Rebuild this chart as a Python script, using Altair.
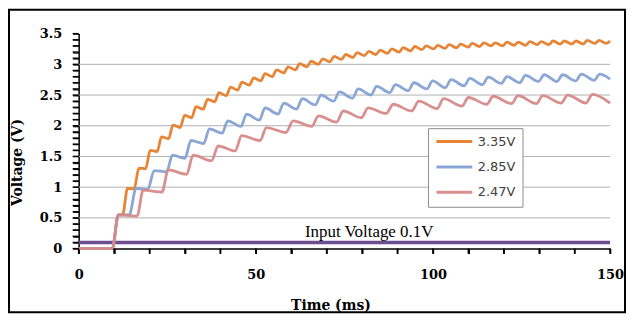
import altair as alt
import pandas as pd

# ---------------- data ----------------
series_names = ["3.35V", "2.85V", "2.47V"]
series_colors = ["#E67D2A", "#84A2D4", "#D88989"]

# 3.35V (orange) vertices: time (ms), voltage (V)
orange_t = [0, 9.5, 11.2, 12.4, 13.8,
            15.65, 17.0, 18.9, 20.2, 22.15, 23.4, 25.4, 26.6, 28.65, 29.9,
            31.9, 33.1, 35.15, 36.4, 38.4, 39.6, 41.65, 42.9, 44.9, 46.1,
            48.15, 49.4, 51.4, 52.6, 54.65, 55.9, 57.9, 59.1, 61.15, 62.4,
            64.4, 65.6, 67.65, 68.9, 70.9, 72.1, 74.15, 75.4, 77.4, 78.6,
            80.65, 81.9, 83.9, 85.1, 87.15, 88.4, 90.4, 91.6, 93.65, 94.9,
            96.9, 98.1, 100.15, 101.4, 103.4, 104.6, 106.65, 107.9, 109.9, 111.1,
            113.15, 114.4, 116.4, 117.6, 119.65, 120.9, 122.9, 124.1, 126.15, 127.4,
            129.4, 130.6, 132.65, 133.9, 135.9, 137.1, 139.15, 140.4, 142.4, 143.6,
            145.65, 146.9, 148.9, 150.0]
orange_v = [0, 0, 0.55, 0.55, 0.98,
            0.97, 1.31, 1.30, 1.60, 1.58, 1.82, 1.79, 2.01, 1.97, 2.17,
            2.13, 2.31, 2.27, 2.43, 2.39, 2.54, 2.49, 2.63, 2.58, 2.71,
            2.66, 2.78, 2.73, 2.85, 2.80, 2.91, 2.86, 2.96, 2.91, 3.01,
            2.96, 3.05, 3.00, 3.09, 3.04, 3.13, 3.08, 3.16, 3.11, 3.19,
            3.14, 3.21, 3.16, 3.23, 3.18, 3.25, 3.20, 3.27, 3.22, 3.29,
            3.24, 3.30, 3.25, 3.31, 3.26, 3.32, 3.27, 3.33, 3.28, 3.34,
            3.29, 3.35, 3.30, 3.35, 3.30, 3.36, 3.31, 3.36, 3.31, 3.37,
            3.32, 3.37, 3.32, 3.38, 3.33, 3.38, 3.33, 3.38, 3.33, 3.39,
            3.34, 3.39, 3.34, 3.38]

# 2.85V (blue)
blue_t = [0, 9.5, 11.2, 14.3, 16.2,
          19.5, 21.3, 24.8, 26.5, 30.0, 31.7, 35.3, 36.9, 40.5, 42.1,
          45.8, 47.4, 51.0, 52.6, 56.3, 57.9, 61.5, 63.1, 66.8, 68.4,
          72.0, 73.6, 77.3, 78.9, 82.5, 84.1, 87.8, 89.4, 93.0, 94.6,
          98.3, 99.9, 103.5, 105.1, 108.8, 110.4, 114.0, 115.6, 119.3, 120.9,
          124.5, 126.1, 129.8, 131.4, 135.0, 136.6, 140.3, 141.9, 145.5, 147.1,
          150]
blue_v = [0, 0, 0.55, 0.55, 0.98,
          0.96, 1.27, 1.25, 1.52, 1.47, 1.76, 1.71, 1.95, 1.88, 2.08,
          1.99, 2.19, 2.09, 2.29, 2.19, 2.37, 2.27, 2.44, 2.34, 2.50,
          2.40, 2.55, 2.45, 2.60, 2.50, 2.64, 2.54, 2.67, 2.57, 2.70,
          2.60, 2.73, 2.62, 2.75, 2.65, 2.77, 2.67, 2.79, 2.69, 2.80,
          2.70, 2.82, 2.72, 2.83, 2.72, 2.83, 2.73, 2.84, 2.74, 2.84,
          2.76]

# 2.47V (red)
red_t = [0, 9.5, 11.2,
         16.5, 18.2, 23.5, 25.3, 30.5, 32.3, 37.5, 39.4, 44.2, 46.0,
         51.2, 53.0, 58.5, 60.5, 65.8, 67.7, 72.8, 74.7, 79.8, 81.7,
         86.8, 88.8, 94.0, 96.0, 101.2, 103.0, 108.2, 110.0, 115.2, 117.0,
         122.2, 124.0, 129.2, 131.0, 136.2, 138.0, 143.2, 145.0, 150]
red_v = [0, 0, 0.55,
         0.53, 0.95, 0.92, 1.28, 1.21, 1.52, 1.43, 1.67, 1.59, 1.84,
         1.76, 1.97, 1.89, 2.08, 1.99, 2.16, 2.06, 2.24, 2.13, 2.29,
         2.20, 2.35, 2.24, 2.40, 2.28, 2.44, 2.32, 2.46, 2.35, 2.48,
         2.36, 2.49, 2.36, 2.49, 2.37, 2.50, 2.37, 2.51, 2.37]

# input voltage line
input_t = [0, 150]
input_v = [0.1, 0.1]
input_label = ["Input Voltage 0.1V"]
input_label_t = [82]
input_label_v = [0.27]

grid_values = [0.5, 1.0, 1.5, 2.0, 2.5, 3.0]
x_tick_values = [0, 10, 20, 30, 40, 50, 60, 70, 80, 90, 100, 110, 120, 130, 140, 150]
y_tick_values = [0.0, 0.1, 0.2, 0.3, 0.4, 0.5, 0.6, 0.7, 0.8, 0.9,
                 1.0, 1.1, 1.2, 1.3, 1.4, 1.5, 1.6, 1.7, 1.8, 1.9,
                 2.0, 2.1, 2.2, 2.3, 2.4, 2.5, 2.6, 2.7, 2.8, 2.9,
                 3.0, 3.1, 3.2, 3.3, 3.4, 3.5]
x_tick_len_v = 0.085   # tick length below the time axis, in volts
y_tick_len_t = 1.7     # tick length left of the voltage axis, in ms

# ---------------- tables ----------------
rows = []
for name, ts, vs in zip(series_names, [orange_t, blue_t, red_t], [orange_v, blue_v, red_v]):
    assert len(ts) == len(vs), name
    for t, v in zip(ts, vs):
        rows.append({"series": name, "t": t, "v": v})
df = pd.DataFrame(rows)
df_in = pd.DataFrame({"t": input_t, "v": input_v})
df_lab = pd.DataFrame({"t": input_label_t, "v": input_label_v, "txt": input_label})
df_grid = pd.DataFrame({"v": grid_values})

# tick segments as two-point lines
xt_rows = []
for i, t in enumerate(x_tick_values):
    xt_rows.append({"k": i, "t": t, "v": 0.0})
    xt_rows.append({"k": i, "t": t, "v": -x_tick_len_v})
df_xt = pd.DataFrame(xt_rows)
yt_rows = []
for i, v in enumerate(y_tick_values):
    yt_rows.append({"k": i, "t": 0.0, "v": v})
    yt_rows.append({"k": i, "t": -y_tick_len_t, "v": v})
df_yt = pd.DataFrame(yt_rows)

x_scale = alt.Scale(domain=[0, 150], nice=False, zero=False)
y_scale = alt.Scale(domain=[0, 3.5], nice=False)

TICK_FONT = "DejaVu Serif"

x_axis = alt.Axis(
    values=x_tick_values,
    labelExpr="datum.value % 50 === 0 ? datum.label : ''",
    title="Time (ms)", titleX=253, titleY=50,
)
y_axis = alt.Axis(
    values=y_tick_values,
    labelExpr="round(datum.value * 10) % 5 === 0 ? format(datum.value, '~g') : ''",
    title="Voltage (V)", titleX=-54, titleY=129, titleAngle=-90, titleBaseline="bottom",
)

X = alt.X("t:Q", scale=x_scale, axis=x_axis)
Y = alt.Y("v:Q", scale=y_scale, axis=y_axis)

grid = alt.Chart(df_grid).mark_rule(color="#B0B0B0", strokeWidth=1).encode(y=Y)

x_ticks = alt.Chart(df_xt).mark_line(color="black", strokeWidth=1.6, clip=False).encode(
    x=X, y=Y, detail="k:N", order="v:Q"
)
y_ticks = alt.Chart(df_yt).mark_line(color="black", strokeWidth=1.4, clip=False).encode(
    x=X, y=Y, detail="k:N", order="t:Q"
)

input_line = alt.Chart(df_in).mark_line(color="#6B4E91", strokeWidth=3.5).encode(x=X, y=Y)

lines = alt.Chart(df).mark_line(strokeWidth=2.8, interpolate="monotone", opacity=0.95).encode(
    x=X,
    y=Y,
    color=alt.Color(
        "series:N",
        scale=alt.Scale(domain=series_names, range=series_colors),
        legend=alt.Legend(
            orient="none", legendX=351, legendY=95, title=None,
            symbolType="stroke", symbolSize=1296, symbolStrokeWidth=3,
            labelFont="DejaVu Sans", labelFontSize=13, labelColor="#404040",
            labelOffset=4, padding=7, rowPadding=11.5, clipHeight=13,
            strokeColor="#8C8C8C", fillColor="white",
        ),
    ),
    detail="series:N",
)

label = alt.Chart(df_lab).mark_text(
    font="Liberation Serif", fontSize=17, color="black", align="center", baseline="middle"
).encode(x=X, y=Y, text="txt:N")

border = alt.Chart(pd.DataFrame({"k": [0]})).mark_rect(
    filled=False, stroke="black", strokeWidth=2
).encode(
    x=alt.value(-70), x2=alt.value(549), y=alt.value(-24), y2=alt.value(280)
)

chart = alt.layer(grid, input_line, lines, x_ticks, y_ticks, label, border).properties(
    width=534, height=216,
    autosize=alt.AutoSizeParams(type="none"),
    padding={"left": 71, "top": 25, "right": 16, "bottom": 65},
).configure(
    background="white"
).configure_view(
    stroke=None
).configure_axis(
    grid=False, ticks=True, tickColor="black", tickOpacity=1,
    domainColor="black", domainWidth=1.5,
    labelFont=TICK_FONT, labelFontSize=13, labelFontWeight="bold", labelColor="black",
    labelOverlap=False, labelFlush=False,
    titleFont=TICK_FONT, titleFontSize=14, titleFontWeight="bold", titleColor="black",
).configure_axisX(
    tickSize=5, tickWidth=1.5, labelPadding=15,
).configure_axisY(
    tickSize=6, tickWidth=1.3, labelPadding=11,
)

chart.save("out.html", embed_options={"renderer": "svg", "actions": False})
